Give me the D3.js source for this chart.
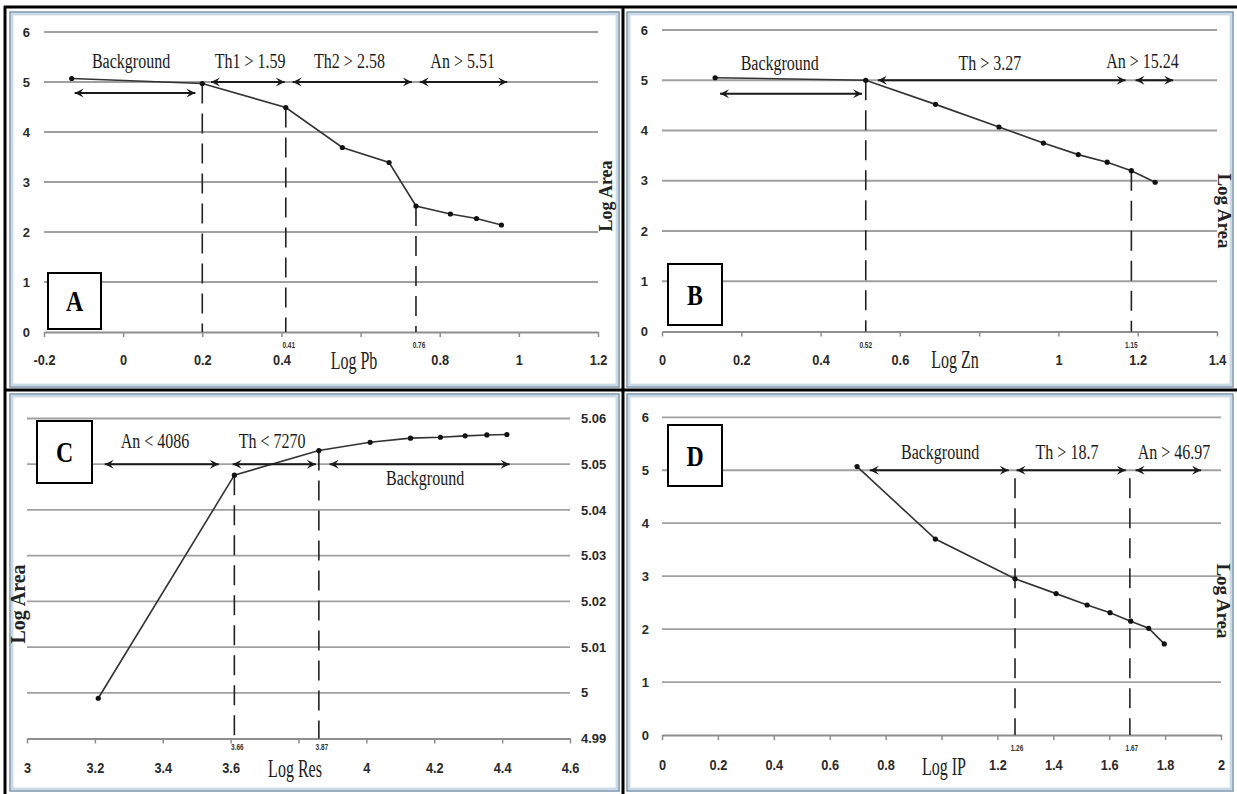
<!DOCTYPE html>
<html><head><meta charset="utf-8">
<script src="https://cdn.jsdelivr.net/npm/d3@7"></script>
<style>
html,body{margin:0;padding:0;background:#fff;}
svg{display:block;}
</style></head><body>
<svg id="chart" width="1237" height="794"></svg>
<script>
// ================= DATA =================
// Panel A : Log Pb vs Log Area
const aLogPb   = [-0.13, 0.20, 0.411, 0.554, 0.672, 0.740, 0.827, 0.893, 0.956];
const aLogArea = [5.07, 4.97, 4.49, 3.69, 3.39, 2.52, 2.36, 2.27, 2.14];
const aThresholds = [0.20, 0.411, 0.740];
const aThresholdTop = [4.97, 4.49, 2.52];
const aThresholdLabels = ["", "0.41", "0.76"];
const aXTicks = [-0.2, 0, 0.2, 0.4, 0.6, 0.8, 1, 1.2];
const aXTickLabels = ["-0.2", "0", "0.2", "0.4", "", "0.8", "1", "1.2"];
const aYTicks = [0, 1, 2, 3, 4, 5, 6];
const aYTickLabels = ["0", "1", "2", "3", "4", "5", "6"];
const aRanges = [[-0.125, 0.185, 4.78], [0.2195, 0.411, 5], [0.426, 0.732, 5], [0.747, 0.973, 5]];
const aRangeLabels = ["Background", "Th1 > 1.59", "Th2 > 2.58", "An > 5.51"];
const aRangeLabelAt = [[0.02, 5.28], [0.321, 5.28], [0.572, 5.28], [0.858, 5.28]];

// Panel B : Log Zn vs Log Area
const bLogZn   = [0.134, 0.514, 0.690, 0.850, 0.962, 1.050, 1.123, 1.184, 1.244];
const bLogArea = [5.05, 5.00, 4.52, 4.07, 3.75, 3.52, 3.37, 3.20, 2.97];
const bThresholds = [0.514, 1.184];
const bThresholdTop = [5.0, 3.2];
const bThresholdLabels = ["0.52", "1.15"];
const bXTicks = [0, 0.2, 0.4, 0.6, 0.8, 1, 1.2, 1.4];
const bXTickLabels = ["0", "0.2", "0.4", "0.6", "", "1", "1.2", "1.4"];
const bYTicks = [0, 1, 2, 3, 4, 5, 6];
const bYTickLabels = ["0", "1", "2", "3", "4", "5", "6"];
const bRanges = [[0.144, 0.507, 4.73], [0.542, 1.172, 5], [1.192, 1.292, 5]];
const bRangeLabels = ["Background", "Th > 3.27", "An > 15.24"];
const bRangeLabelAt = [[0.297, 5.20], [0.827, 5.20], [1.212, 5.24]];

// Panel C : Log Res vs Log Area
const cLogRes  = [3.21, 3.611, 3.860, 4.011, 4.130, 4.218, 4.291, 4.355, 4.414];
const cLogArea = [4.9988, 5.0476, 5.0530, 5.0548, 5.0557, 5.0559, 5.0562, 5.0564, 5.0565];
const cThresholds = [3.611, 3.860];
const cThresholdTop = [5.0476, 5.0530];
const cThresholdLabels = ["3.66", "3.87"];
const cXTicks = [3, 3.2, 3.4, 3.6, 3.8, 4, 4.2, 4.4, 4.6];
const cXTickLabels = ["3", "3.2", "3.4", "3.6", "", "4", "4.2", "4.4", "4.6"];
const cYTicks = [4.99, 5, 5.01, 5.02, 5.03, 5.04, 5.05, 5.06];
const cYTickLabels = ["4.99", "5", "5.01", "5.02", "5.03", "5.04", "5.05", "5.06"];
const cRanges = [[3.226, 3.568, 5.05], [3.603, 3.854, 5.05], [3.889, 4.425, 5.05]];
const cRangeLabels = ["An < 4086", "Th < 7270", "Background"];
const cRangeLabelAt = [[3.377, 5.0535], [3.722, 5.0535], [4.173, 5.0455]];

// Panel D : Log IP vs Log Area
const dLogIP   = [0.698, 0.978, 1.263, 1.41, 1.521, 1.603, 1.677, 1.741, 1.797];
const dLogArea = [5.07, 3.70, 2.95, 2.67, 2.455, 2.31, 2.15, 2.015, 1.72];
const dThresholds = [1.263, 1.674];
const dThresholdTop = [4.85, 4.85];
const dThresholdLabels = ["1.26", "1.67"];
const dXTicks = [0, 0.2, 0.4, 0.6, 0.8, 1, 1.2, 1.4, 1.6, 1.8, 2];
const dXTickLabels = ["0", "0.2", "0.4", "0.6", "0.8", "", "1.2", "1.4", "1.6", "1.8", "2"];
const dYTicks = [0, 1, 2, 3, 4, 5, 6];
const dYTickLabels = ["0", "1", "2", "3", "4", "5", "6"];
const dRanges = [[0.740, 1.244, 5], [1.265, 1.663, 5], [1.691, 1.932, 5]];
const dRangeLabels = ["Background", "Th > 18.7", "An > 46.97"];
const dRangeLabelAt = [[0.995, 5.21], [1.449, 5.21], [1.832, 5.21]];

// ================= DRAWING =================
const SANS = "'Liberation Sans', Arial, sans-serif";
const SERIF = "'Liberation Serif', 'Times New Roman', serif";
const svg = d3.select("#chart");
svg.append("rect").attr("width", 1237).attr("height", 794).attr("fill", "#fff");

const defs = svg.append("defs");
defs.append("marker").attr("id", "head")
  .attr("viewBox", "-10 -5 11 10").attr("refX", 0).attr("refY", 0)
  .attr("markerWidth", 11).attr("markerHeight", 10)
  .attr("markerUnits", "userSpaceOnUse").attr("orient", "auto-start-reverse")
  .append("path").attr("d", "M0,0 L-9,-4.5 L-5.5,0 L-9,4.5 Z").attr("fill", "#1a1a1a");

function condense(sel, k) {
  sel.each(function () {
    const w = this.getComputedTextLength();
    if (w > 0) d3.select(this).attr("textLength", w * k).attr("lengthAdjust", "spacingAndGlyphs");
  });
}

// panel frames (blue-grey double frame)
const frames = [[10, 12, 619, 387], [627, 12, 1233, 387], [10, 394, 619, 791], [627, 394, 1233, 791]];
frames.forEach(f => {
  svg.append("rect").attr("x", f[0]).attr("y", f[1]).attr("width", f[2] - f[0]).attr("height", f[3] - f[1])
    .attr("fill", "none").attr("stroke", "#6f8ca5").attr("stroke-width", 1.4);
  svg.append("rect").attr("x", f[0] + 2.2).attr("y", f[1] + 2.2).attr("width", f[2] - f[0] - 4.4).attr("height", f[3] - f[1] - 4.4)
    .attr("fill", "none").attr("stroke", "#c9dae6").attr("stroke-width", 2.4);
});
// black separators
[[4, 7, 1237, 7], [5, 6, 5, 794], [623, 7, 623, 794], [5, 390, 1237, 390]].forEach(l => {
  svg.append("line").attr("x1", l[0]).attr("y1", l[1]).attr("x2", l[2]).attr("y2", l[3])
    .attr("stroke", "#000").attr("stroke-width", 3);
});

function drawPanel(p) {
  const g = svg.append("g");
  const x = d3.scaleLinear().domain(p.xDomain).range(p.xRange);
  const y = d3.scaleLinear().domain(p.yDomain).range(p.yRange);
  const base = y(p.yDomain[0]);

  // horizontal gridlines
  g.append("g").selectAll("line").data(p.yTicks.filter(v => v !== p.yDomain[0])).join("line")
    .attr("x1", p.xRange[0]).attr("x2", p.xRange[1])
    .attr("y1", d => y(d)).attr("y2", d => y(d))
    .attr("stroke", "#a0a0a0").attr("stroke-width", 1.8);

  // x axis
  const xa = g.append("g").attr("transform", `translate(0,${base})`)
    .call(d3.axisBottom(x).tickValues(p.xTicks).tickFormat((d, i) => p.xTickLabels[i])
      .tickSizeInner(5).tickSizeOuter(0));
  xa.select(".domain").attr("stroke", "#8e8e8e").attr("stroke-width", 1.8);
  xa.selectAll(".tick line").attr("stroke", "#8e8e8e").attr("stroke-width", 1.5);
  xa.selectAll("text").attr("y", p.xLabelDy).attr("dy", 0)
    .attr("font-family", SANS).attr("font-weight", "bold").attr("font-size", 15).attr("fill", "#2a2a2a");
  condense(xa.selectAll("text"), 0.85);

  // y axis labels
  const yGen = p.yRight ? d3.axisRight(y) : d3.axisLeft(y);
  const ya = g.append("g").attr("transform", `translate(${p.yRight ? p.xRange[1] : p.xRange[0]},0)`)
    .call(yGen.tickValues(p.yTicks).tickFormat((d, i) => p.yTickLabels[i]).tickSize(0).tickPadding(p.yPad));
  ya.select(".domain").remove();
  ya.selectAll("text").attr("font-family", SANS).attr("font-weight", "bold").attr("font-size", 13).attr("fill", "#2a2a2a");

  // threshold dashed lines
  g.append("g").selectAll("line").data(p.thr).join("line")
    .attr("x1", d => x(d)).attr("x2", d => x(d))
    .attr("y1", (d, i) => y(p.thrTop[i])).attr("y2", base)
    .attr("stroke", "#222").attr("stroke-width", 1.6).attr("stroke-dasharray", "20,10");
  const tl = g.append("g").selectAll("text").data(p.thr).join("text")
    .attr("x", d => x(d) + p.thrDx).attr("y", base + p.thrDy)
    .attr("text-anchor", "middle").attr("font-family", SANS).attr("font-weight", "bold")
    .attr("font-size", 9).attr("fill", "#333")
    .text((d, i) => p.thrLabels[i]);
  condense(tl, 0.72);

  // data line + points
  const pts = p.xs.map((v, i) => [v, p.ys[i]]);
  g.append("path").datum(pts)
    .attr("d", d3.line().x(d => x(d[0])).y(d => y(d[1])))
    .attr("fill", "none").attr("stroke", "#333").attr("stroke-width", 1.6);
  g.append("g").selectAll("circle").data(pts).join("circle")
    .attr("cx", d => x(d[0])).attr("cy", d => y(d[1])).attr("r", 2.6).attr("fill", "#111");

  // range arrows
  g.append("g").selectAll("line").data(p.ranges).join("line")
    .attr("x1", d => x(d[0]) + 1).attr("x2", d => x(d[1]) - 1)
    .attr("y1", d => y(d[2])).attr("y2", d => y(d[2]))
    .attr("stroke", "#1a1a1a").attr("stroke-width", 2)
    .attr("marker-start", "url(#head)").attr("marker-end", "url(#head)");
  const rl = g.append("g").selectAll("text").data(p.rangeLabels).join("text")
    .attr("x", (d, i) => x(p.rangeLabelAt[i][0])).attr("y", (d, i) => y(p.rangeLabelAt[i][1]))
    .attr("text-anchor", "middle").attr("font-family", SERIF).attr("font-size", 20).attr("fill", "#1a1a1a")
    .text(d => d);
  condense(rl, 0.8);

  // letter box
  g.append("rect").attr("x", p.box[0]).attr("y", p.box[1]).attr("width", p.box[2]).attr("height", p.box[3])
    .attr("fill", "#fff").attr("stroke", "#000").attr("stroke-width", 2);
  const lt = g.append("text").attr("x", p.box[0] + p.box[2] / 2).attr("y", p.box[1] + p.box[3] / 2 + 10)
    .attr("text-anchor", "middle").attr("font-family", SERIF).attr("font-weight", "bold").attr("font-size", 29)
    .text(p.letter);
  condense(lt, 0.82);

  // x title
  const xt = g.append("text").attr("x", p.title[0]).attr("y", p.title[1])
    .attr("text-anchor", "middle").attr("font-family", SERIF).attr("font-size", 25).attr("fill", "#222")
    .text(p.xTitle);
  condense(xt, 0.64);

  // y title (rotated)
  g.append("text").attr("transform", `translate(${p.yTitle[0]},${p.yTitle[1]}) rotate(${p.yTitle[2]})`)
    .attr("text-anchor", "middle").attr("dominant-baseline", "central")
    .attr("font-family", SERIF).attr("font-weight", "bold").attr("font-size", p.yTitle[3]).attr("fill", "#222")
    .text("Log Area");
}

drawPanel({
  xs: aLogPb, ys: aLogArea, xDomain: [-0.2, 1.2], yDomain: [0, 6], xRange: [44, 598], yRange: [332, 32],
  xTicks: aXTicks, xTickLabels: aXTickLabels, yTicks: aYTicks, yTickLabels: aYTickLabels, yPad: 14, xLabelDy: 33,
  thr: aThresholds, thrTop: aThresholdTop, thrLabels: aThresholdLabels, thrDx: 3, thrDy: 16,
  ranges: aRanges, rangeLabels: aRangeLabels, rangeLabelAt: aRangeLabelAt,
  box: [48, 273, 53, 56], letter: "A", xTitle: "Log Pb", title: [354, 369], yTitle: [606, 196, -90, 18]
});
drawPanel({
  xs: bLogZn, ys: bLogArea, xDomain: [0, 1.4], yDomain: [0, 6], xRange: [662, 1217], yRange: [331.5, 30],
  xTicks: bXTicks, xTickLabels: bXTickLabels, yTicks: bYTicks, yTickLabels: bYTickLabels, yPad: 14, xLabelDy: 33.5,
  thr: bThresholds, thrTop: bThresholdTop, thrLabels: bThresholdLabels, thrDx: 0, thrDy: 16,
  ranges: bRanges, rangeLabels: bRangeLabels, rangeLabelAt: bRangeLabelAt,
  box: [668, 264, 54, 61], letter: "B", xTitle: "Log Zn", title: [955, 368], yTitle: [1224, 211, 90, 19]
});
drawPanel({
  xs: cLogRes, ys: cLogArea, xDomain: [3, 4.6], yDomain: [4.99, 5.06], xRange: [27, 570], yRange: [738.5, 418.5],
  xTicks: cXTicks, xTickLabels: cXTickLabels, yTicks: cYTicks, yTickLabels: cYTickLabels, yPad: 11, yRight: true, xLabelDy: 34.5,
  thr: cThresholds, thrTop: cThresholdTop, thrLabels: cThresholdLabels, thrDx: 3, thrDy: 11.5,
  ranges: cRanges, rangeLabels: cRangeLabels, rangeLabelAt: cRangeLabelAt,
  box: [37, 421, 55, 62], letter: "C", xTitle: "Log Res", title: [295, 777], yTitle: [18, 604, -90, 20]
});
drawPanel({
  xs: dLogIP, ys: dLogArea, xDomain: [0, 2], yDomain: [0, 6], xRange: [662, 1221], yRange: [735, 417.3],
  xTicks: dXTicks, xTickLabels: dXTickLabels, yTicks: dYTicks, yTickLabels: dYTickLabels, yPad: 13, xLabelDy: 35,
  thr: dThresholds, thrTop: dThresholdTop, thrLabels: dThresholdLabels, thrDx: 2, thrDy: 15.5,
  ranges: dRanges, rangeLabels: dRangeLabels, rangeLabelAt: dRangeLabelAt,
  box: [668, 425, 54, 61], letter: "D", xTitle: "Log IP", title: [944, 775], yTitle: [1223, 601, 90, 19]
});
</script>
</body></html>
